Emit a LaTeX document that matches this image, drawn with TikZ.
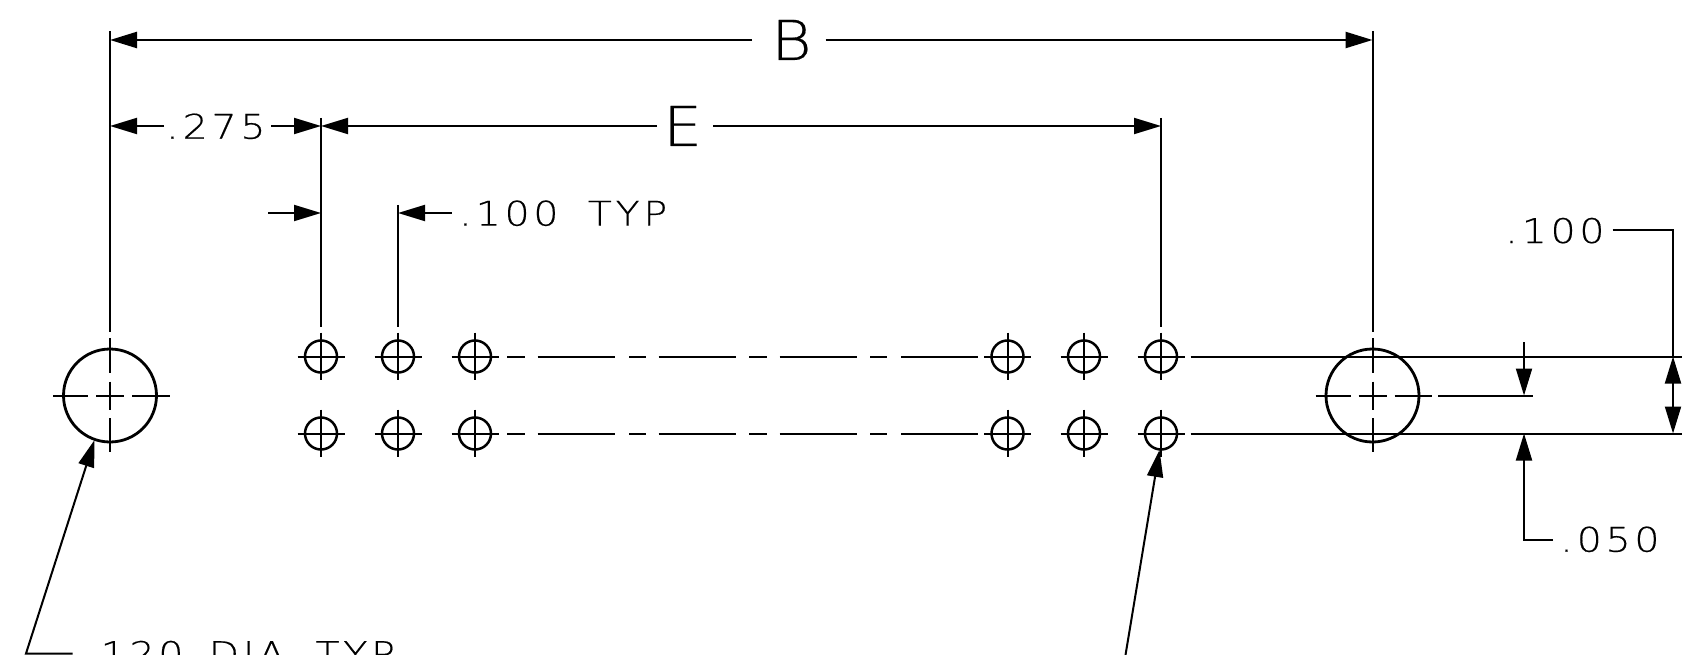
\documentclass[tikz,border=0pt]{standalone}
\usepackage{fontspec}
\setmainfont{DejaVu Sans}
\newfontfamily\cadfont[LetterSpace=11,FakeStretch=1.16,FakeBold=0.35]{DejaVu Sans ExtraLight}
\newfontfamily\cadfontb[FakeStretch=1.12,FakeBold=0.3]{DejaVu Sans ExtraLight}
\newcommand{\cadsmall}{\cadfont\fontsize{34}{34}\selectfont}
\newcommand{\cadbig}{\cadfontb\fontsize{55}{55}\selectfont}
\usetikzlibrary{arrows.meta}
\tikzset{
  x=1pt,y=-1pt,
  thin line/.style={line width=2pt,black},
  dimline/.style={thin line,-{Triangle[length=27pt,width=16pt]}},
  ext/.style={line width=2pt,black},
  hole/.style={circle,draw,line width=2.5pt,minimum size=32pt,inner sep=0pt},
  bighole/.style={circle,draw,line width=2.8pt,minimum size=93pt,inner sep=0pt},
  label/.style={inner sep=0pt,anchor=base west},
}
\begin{document}
\begin{tikzpicture}
\useasboundingbox (0,0) rectangle (1694,655);
% holes
\foreach \n/\x in {a/321,b/398,c/475,d/1007.5,e/1084,f/1161}{
  \foreach \r/\y in {t/356.5,u/433.5}{
    \node[hole] (\n\r) at (\x,\y) {};
    \draw[ext] (\x-23.5,\y) -- (\x+23.5,\y);
    \draw[ext] (\x,\y-24) -- (\x,\y+23);
  }
}
% big holes
\foreach \n/\x in {L/110,R/1372.5}{
  \node[bighole] (\n) at (\x,395.5) {};
  \draw[ext] (\x-14,395.5) -- (\x+14,395.5);
  \draw[ext] (\x,381.5) -- (\x,409.5);
  \draw[ext] (\x,338) -- (\x,373);
  \draw[ext] (\x,418) -- (\x,452);
  \draw[ext] (\x-57,395.5) -- (\x-22,395.5);
}
\draw[ext] (132,395.5) -- (170,395.5);
\draw[ext] (1394.5,395.5) -- (1432,395.5);
% centre lines of the rows
\foreach \y in {356.5,433.5}{
  \foreach \a/\b in {507/525,537.5/615,629/646,658.5/736,749/767,779.5/857,870/887,901/977.5}{
    \draw[ext] (\a,\y) -- (\b,\y);
  }
  \draw[ext] (1190.5,\y) -- (1682,\y);
}
% extension lines
\draw[ext] (110,31) -- (110,332);
\draw[ext] (1372.5,31) -- (1372.5,332);
\draw[ext] (321,118) -- (321,326.5);
\draw[ext] (398,205) -- (398,326.5);
\draw[ext] (1161,118) -- (1161,326.5);
% B
\node[label,font=\cadbig] (B) at (771,60) {B};
\draw[dimline,line width=2.4pt] (752,40) -- (110,40);
\draw[dimline,line width=2.4pt] (825.5,40) -- (1372.5,40);
% E
\node[label,font=\cadbig] (E) at (663,146) {E};
\draw[dimline] (657,126) -- (321,126);
\draw[dimline] (713,126) -- (1161,126);
% .275
\node[label,font=\cadsmall] (d275) at (166,138.7) {.\kern4pt 275};
\draw[dimline] (164,126) -- (110,126);
\draw[dimline] (271,126) -- (321,126);
% .100 TYP
\coordinate (tl) at (268,213);
\draw[dimline] (tl) -- (321,213);
\draw[dimline] (451.5,213) -- (398,213);
\node[label,font=\cadsmall] (d100t) at (459,225.6) {.\kern4pt 100\hspace{13pt} TYP};
% .100 right
\node[label,font=\cadsmall] (d100) at (1505,243) {.\kern4pt 100};
\draw[thin line] (1612.5,230) -- (1673,230) -- (1673,357);
\draw[dimline] (1673,395) -- (1673,356.5);
\draw[dimline] (1673,395) -- (1673,433.5);
% .050
\node[label,font=\cadsmall] (d050) at (1560,551.7) {.\kern4pt 050};
\draw[dimline] (1524,342) -- (1524,395.5);
\draw[ext] (1438,395.5) -- (1532.5,395.5);
\draw[dimline] (1553,539.5) -- (1524,539.5) -- (1524,433.5);
% leaders
\node[label,font=\cadsmall] (d120) at (84,666) {.\kern4pt 120\hspace{9pt} DIA\hspace{14pt} TYP};
\draw[dimline] (72.5,653.5) -- (26,653.5) -- (94.5,440);
\draw[dimline] (1125.5,655) -- (1159.5,450);
\end{tikzpicture}
\end{document}
